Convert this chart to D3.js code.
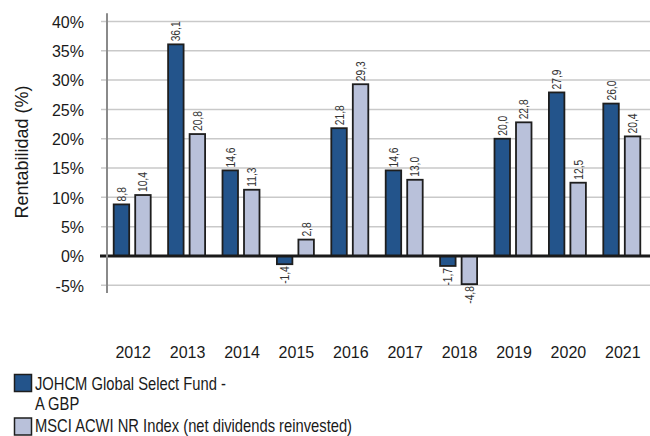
<!DOCTYPE html>
<html>
<head>
<meta charset="utf-8">
<script src="https://cdn.jsdelivr.net/npm/d3@7"></script>
<style>
  html, body { margin: 0; padding: 0; background: #fff; }
  svg { display: block; }
  text { font-family: "Liberation Sans", Arial, sans-serif; fill: #1a1a1a; }
</style>
</head>
<body>
<svg id="chart" width="650" height="436"></svg>
<script>
const years = ["2012","2013","2014","2015","2016","2017","2018","2019","2020","2021"];
const fundValues = [8.8, 36.1, 14.6, -1.4, 21.8, 14.6, -1.7, 20.0, 27.9, 26.0];
const indexValues = [10.4, 20.8, 11.3, 2.8, 29.3, 13.0, -4.8, 22.8, 12.5, 20.4];
const seriesNames = ["JOHCM Global Select Fund -\nA GBP", "MSCI ACWI NR Index (net dividends reinvested)"];
const seriesKeys = ["fund", "index"];
const seriesColors = ["#23548b", "#b9c1da"];
const yTicks = [-5, 0, 5, 10, 15, 20, 25, 30, 35, 40];
const yAxisTitle = "Rentabilidad (%)";

const NARROW = 0.82;
const svg = d3.select("#chart");

const y = d3.scaleLinear().domain([-5, 40]).range([285.3, 21.5]);
const x0 = d3.scaleBand().domain(years).range([105, 649]).paddingInner(0.32).paddingOuter(0.16);
const x1 = d3.scaleBand().domain(seriesKeys).range([0, x0.bandwidth()]).paddingInner(0.28);
const color = d3.scaleOrdinal().domain(seriesKeys).range(seriesColors);

const data = years.map((yr, i) => ({ year: yr, fund: fundValues[i], index: indexValues[i] }));

const fmt = v => d3.format(".1f")(v).replace(".", ",").replace("\u2212", "-");

// gridlines
svg.append("g").selectAll("line").data(yTicks.filter(t => t !== 0)).join("line")
  .attr("x1", 101).attr("x2", 650)
  .attr("y1", d => y(d)).attr("y2", d => y(d))
  .attr("stroke", "#c9c9c9").attr("stroke-width", 1.5);

// y tick labels via axis
const yAxis = d3.axisLeft(y).tickValues(yTicks).tickFormat(d => d + "%").tickSize(0).tickPadding(0);
const gy = svg.append("g").attr("transform", "translate(84,0)").call(yAxis);
gy.select(".domain").remove();
gy.selectAll("text").attr("font-size", 16).attr("fill", "#1a1a1a")
  .style("font-family", "'Liberation Sans', Arial, sans-serif").attr("dy", "0.36em");

// bars
const groups = svg.append("g").selectAll("g").data(data).join("g")
  .attr("transform", d => `translate(${x0(d.year)},0)`);

groups.selectAll("rect").data(d => seriesKeys.map(k => ({ key: k, value: d[k] }))).join("rect")
  .attr("x", d => x1(d.key))
  .attr("width", x1.bandwidth())
  .attr("y", d => y(Math.max(0, d.value)))
  .attr("height", d => Math.abs(y(d.value) - y(0)))
  .attr("fill", d => color(d.key))
  .attr("stroke", "#1e1e1e").attr("stroke-width", 1.8);

// value labels
groups.selectAll("text.val").data(d => seriesKeys.map(k => ({ key: k, value: d[k] }))).join("text")
  .attr("class", "val")
  .attr("transform", d => {
    const cx = x1(d.key) + x1.bandwidth() / 2;
    const yy = d.value >= 0 ? y(d.value) - 3 : y(d.value) + 2;
    return `translate(${cx + 4.5},${yy}) rotate(-90) scale(${NARROW},1)`;
  })
  .attr("text-anchor", d => d.value >= 0 ? "start" : "end")
  .attr("font-size", 12.5)
  .style("fill", "#333")
  .text(d => fmt(d.value));

// zero line
svg.append("line").attr("x1", 100).attr("x2", 650)
  .attr("y1", y(0)).attr("y2", y(0))
  .attr("stroke", "#1a1a1a").attr("stroke-width", 3);

// y axis line
svg.append("line").attr("x1", 107).attr("x2", 107)
  .attr("y1", y(41.4)).attr("y2", y(-6.3))
  .attr("stroke", "#8a8a8a").attr("stroke-width", 2);

// x labels via axis
const xAxis = d3.axisBottom(x0).tickSize(0).tickPadding(0);
const gx = svg.append("g").attr("transform", "translate(1,346)").call(xAxis);
gx.select(".domain").remove();
gx.selectAll("text").attr("font-size", 16).attr("fill", "#1a1a1a")
  .style("font-family", "'Liberation Sans', Arial, sans-serif").attr("dy", "0.76em");

// y title
svg.append("text")
  .attr("transform", "translate(28,152) rotate(-90)")
  .attr("text-anchor", "middle")
  .attr("font-size", 18)
  .text(yAxisTitle);

// legend
const legendRows = [
  { key: "fund", lines: seriesNames[0].split("\n"), top: 374.5, baseline: 389.5 },
  { key: "index", lines: seriesNames[1].split("\n"), top: 418, baseline: 432 }
];
const lg = svg.append("g");
legendRows.forEach(r => {
  lg.append("rect").attr("x", 14.5).attr("y", r.top).attr("width", 17).attr("height", 17)
    .attr("fill", color(r.key)).attr("stroke", "#1e1e1e").attr("stroke-width", 1.5);
  const t = lg.append("text")
    .attr("transform", `translate(35,${r.baseline}) scale(${NARROW},1)`)
    .attr("font-size", 18);
  r.lines.forEach((ln, i) => {
    t.append("tspan").attr("x", 0).attr("dy", i === 0 ? 0 : 21).text(ln);
  });
});
</script>
</body>
</html>
